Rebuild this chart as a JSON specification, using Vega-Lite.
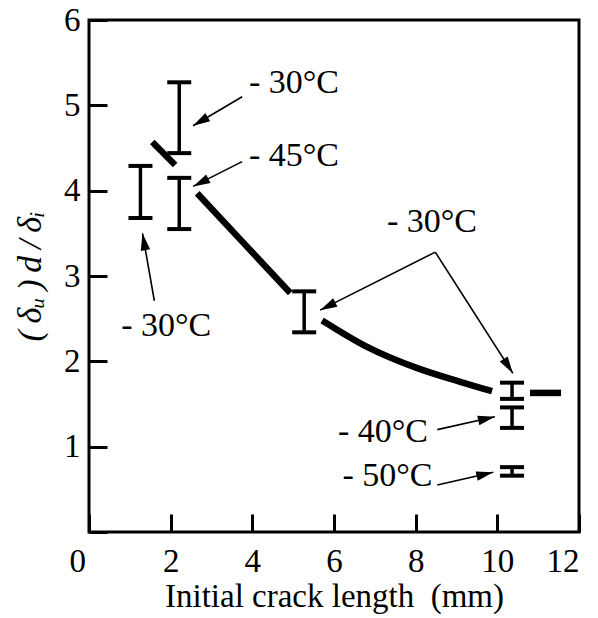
{
  "$schema": "https://vega.github.io/schema/vega-lite/v6.json",
  "width": 490,
  "height": 512,
  "autosize": {"type": "none"},
  "padding": {"left": 89, "top": 20, "right": 19, "bottom": 86},
  "background": "white",
  "config": {
    "view": {"stroke": "black", "strokeWidth": 3},
    "font": "'Liberation Serif', serif",
    "axis": {
      "grid": false,
      "domain": false,
      "tickColor": "black",
      "tickWidth": 3,
      "tickSize": -18,
      "labelColor": "black",
      "titleColor": "black",
      "labelFont": "'Liberation Serif', serif",
      "titleFont": "'Liberation Serif', serif",
      "labelFontSize": 33,
      "titleFontSize": 33,
      "titleFontWeight": "normal"
    }
  },
  "datasets": {
    "curve": [
      {"seg": "a", "x": 1.55, "y": 4.57},
      {"seg": "a", "x": 2.11, "y": 4.30},
      {"seg": "b", "x": 2.65, "y": 3.97},
      {"seg": "b", "x": 3.76, "y": 3.40},
      {"seg": "b", "x": 4.93, "y": 2.80},
      {"seg": "c", "x": 5.71, "y": 2.48},
      {"seg": "c", "x": 6.81, "y": 2.17},
      {"seg": "c", "x": 8.04, "y": 1.92},
      {"seg": "c", "x": 9.09, "y": 1.76},
      {"seg": "c", "x": 9.87, "y": 1.65},
      {"seg": "d", "x": 10.80, "y": 1.63},
      {"seg": "d", "x": 11.56, "y": 1.63}
    ],
    "bars": [
      {"x": 1.26, "lo": 3.68, "hi": 4.29},
      {"x": 2.21, "lo": 4.44, "hi": 5.27},
      {"x": 2.21, "lo": 3.55, "hi": 4.15},
      {"x": 5.27, "lo": 2.34, "hi": 2.82},
      {"x": 10.36, "lo": 1.56, "hi": 1.75},
      {"x": 10.36, "lo": 1.22, "hi": 1.46},
      {"x": 10.36, "lo": 0.66, "hi": 0.76}
    ],
    "arrows": [
      {"x": 3.75, "y": 5.10, "x2": 2.55, "y2": 4.76},
      {"x": 3.75, "y": 4.34, "x2": 2.55, "y2": 4.05},
      {"x": 1.60, "y": 2.71, "x2": 1.31, "y2": 3.50},
      {"x": 8.48, "y": 3.28, "x2": 5.66, "y2": 2.60},
      {"x": 8.48, "y": 3.28, "x2": 10.38, "y2": 1.86},
      {"x": 8.53, "y": 1.20, "x2": 9.94, "y2": 1.35},
      {"x": 8.53, "y": 0.55, "x2": 9.90, "y2": 0.70}
    ],
    "labels": [
      {"x": 5.02, "y": 5.26, "text": "- 30°C"},
      {"x": 5.02, "y": 4.41, "text": "- 45°C"},
      {"x": 1.89, "y": 2.41, "text": "- 30°C"},
      {"x": 8.40, "y": 3.63, "text": "- 30°C"},
      {"x": 7.20, "y": 1.17, "text": "- 40°C"},
      {"x": 7.31, "y": 0.66, "text": "- 50°C"}
    ]
  },
  "encoding": {
    "x": {
      "field": "x",
      "type": "quantitative",
      "scale": {"domain": [0, 12], "nice": false},
      "axis": {
        "values": [0, 2, 4, 6, 8, 10, 12],
        "title": "Initial crack length\u00a0\u00a0(mm)",
        "labelPadding": 31,
        "labelOffset": {"condition": {"test": "datum.value === 0", "value": -20}, "value": 0},
        "titlePadding": 2
      }
    },
    "y": {
      "field": "y",
      "type": "quantitative",
      "scale": {"domain": [0, 6], "nice": false},
      "axis": {
        "values": [0, 1, 2, 3, 4, 5, 6],
        "labelExpr": "datum.value === 0 ? '' : datum.label",
        "title": "(\u2009δᵤ\u2009)\u2009d\u2009/\u2009δᵢ",
        "titleFontStyle": "italic",
        "titleFontSize": 34,
        "labelPadding": 27,
        "titlePadding": 16
      }
    }
  },
  "layer": [
    {
      "data": {"name": "curve"},
      "mark": {"type": "line", "color": "black", "strokeWidth": 6.5, "interpolate": "monotone", "strokeCap": "butt"},
      "encoding": {"detail": {"field": "seg", "type": "nominal"}}
    },
    {
      "data": {"name": "bars"},
      "mark": {"type": "rule", "color": "black", "strokeWidth": 3.5},
      "encoding": {"y": {"field": "lo", "type": "quantitative"}, "y2": {"field": "hi"}}
    },
    {
      "data": {"name": "bars"},
      "mark": {"type": "tick", "color": "black", "opacity": 1, "orient": "horizontal", "size": 24, "thickness": 4},
      "encoding": {"y": {"field": "lo", "type": "quantitative"}}
    },
    {
      "data": {"name": "bars"},
      "mark": {"type": "tick", "color": "black", "opacity": 1, "orient": "horizontal", "size": 24, "thickness": 4},
      "encoding": {"y": {"field": "hi", "type": "quantitative"}}
    },
    {
      "data": {"name": "arrows"},
      "mark": {"type": "rule", "color": "black", "strokeWidth": 1.6},
      "encoding": {"x2": {"field": "x2"}, "y2": {"field": "y2"}}
    },
    {
      "data": {"name": "arrows"},
      "transform": [
        {"calculate": "atan2((datum.x2 - datum.x) * 40.83, (datum.y2 - datum.y) * 85.33) * 180 / PI", "as": "angle"}
      ],
      "mark": {"type": "point", "filled": true, "color": "black", "opacity": 1, "shape": "M0,0L0.28,1L-0.28,1Z", "size": 1156, "strokeWidth": 0},
      "encoding": {
        "x": {"field": "x2", "type": "quantitative"},
        "y": {"field": "y2", "type": "quantitative"},
        "angle": {"field": "angle", "type": "quantitative", "scale": null}
      }
    },
    {
      "data": {"name": "labels"},
      "mark": {"type": "text", "color": "black", "font": "'Liberation Serif', serif", "fontSize": 34, "align": "center", "baseline": "middle"},
      "encoding": {"text": {"field": "text"}}
    }
  ]
}
